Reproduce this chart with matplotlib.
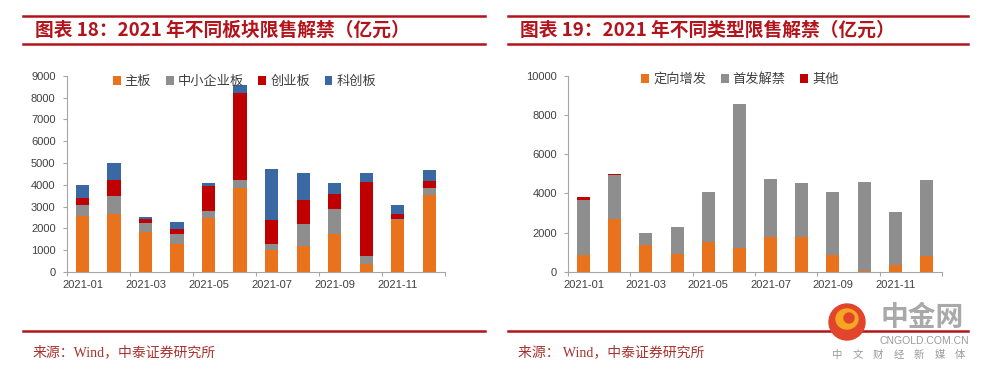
import numpy as np
import matplotlib
matplotlib.use("Agg")
import matplotlib.pyplot as plt
from matplotlib.patches import Ellipse
from matplotlib.lines import Line2D

plt.rcParams['font.family'] = ['Liberation Sans', 'Noto Sans CJK SC', 'DejaVu Sans']

# Data (亿元)
months = ['2021-01', '2021-02', '2021-03', '2021-04', '2021-05', '2021-06',
          '2021-07', '2021-08', '2021-09', '2021-10', '2021-11', '2021-12']
tick_labels = ['2021-01', '2021-03', '2021-05', '2021-07', '2021-09', '2021-11']

# Chart 18: by board
zhuban = [2550, 2680, 1840, 1270, 2480, 3830, 1000, 1180, 1760, 380, 2400, 3520]
zhongxiao = [510, 800, 410, 470, 320, 380, 270, 1010, 1150, 360, 50, 340]
chuangye = [350, 730, 200, 210, 1140, 3980, 1100, 1100, 660, 3390, 230, 320]
kechuang = [570, 770, 50, 330, 150, 390, 2350, 1230, 490, 430, 410, 490]

# Chart 19: by type
dingxiang = [850, 2720, 1390, 940, 1530, 1240, 1790, 1790, 850, 30, 340, 800]
shoufa = [2840, 2210, 600, 1360, 2550, 7310, 2940, 2750, 3200, 4540, 2720, 3880]
qita = [130, 50, 0, 0, 0, 0, 30, 0, 0, 0, 0, 0]

ORANGE = '#E8731C'
GRAY = '#8E8E8E'
RED = '#C00000'
BLUE = '#3A68A2'
DARKRED = '#B3141B'
AXIS = '#A6A6A6'
TXT = '#404040'

W, H = 984, 373
fig = plt.figure(figsize=(W / 100, H / 100), dpi=100)


def fx(px):
    return px / W


def fy(py):
    return (H - py) / H


def style_axes(ax, ymax, ystep):
    x = np.arange(len(months))
    ax.set_xlim(-0.5, len(months) - 0.5)
    ax.set_ylim(0, ymax)
    ax.set_yticks(np.arange(0, ymax + 1, ystep))
    ax.set_xticks(x[::2])
    ax.set_xticklabels(tick_labels)
    ax.set_xticks(np.arange(-0.5, len(months), 2), minor=True)
    ax.tick_params(axis='x', which='major', length=0, pad=6, labelsize=8, labelcolor=TXT)
    ax.tick_params(axis='x', which='minor', length=3, color=AXIS, width=0.8)
    ax.tick_params(axis='y', length=3, color=AXIS, width=0.8, pad=5, labelsize=8, labelcolor=TXT)
    for s in ['top', 'right']:
        ax.spines[s].set_visible(False)
    for s in ['left', 'bottom']:
        ax.spines[s].set_color(AXIS)
        ax.spines[s].set_linewidth(0.8)


# Left chart
ax1 = fig.add_axes([fx(66.7), fy(272), fx(445 - 66.7), (272 - 75.7) / H])
x = np.arange(len(months))
bw = 0.42
b = np.zeros(len(months))
for vals, col, lab in [(zhuban, ORANGE, '主板'), (zhongxiao, GRAY, '中小企业板'),
                       (chuangye, RED, '创业板'), (kechuang, BLUE, '科创板')]:
    ax1.bar(x, vals, bw, bottom=b, color=col, label=lab)
    b = b + np.array(vals)
style_axes(ax1, 9000, 1000)
ax1.legend(loc='center', bbox_to_anchor=(0.47, 0.97), ncol=4, frameon=False,
           handlelength=0.6, handleheight=0.6, handletextpad=0.3, columnspacing=1.1,
           prop={'family': ['Noto Sans CJK SC'], 'size': 9.5}, labelcolor=TXT)

# Right chart
ax2 = fig.add_axes([fx(568), fy(272), fx(942 - 568), (272 - 75.7) / H])
b = np.zeros(len(months))
for vals, col, lab in [(dingxiang, ORANGE, '定向增发'), (shoufa, GRAY, '首发解禁'), (qita, RED, '其他')]:
    ax2.bar(x, vals, bw, bottom=b, color=col, label=lab)
    b = b + np.array(vals)
style_axes(ax2, 10000, 2000)
ax2.legend(loc='center', bbox_to_anchor=(0.46, 0.98), ncol=3, frameon=False,
           handlelength=0.6, handleheight=0.6, handletextpad=0.3, columnspacing=1.1,
           prop={'family': ['Noto Sans CJK SC'], 'size': 9.5}, labelcolor=TXT)

# Title bars and source lines
for x0, x1, title, src in [(23, 485, '图表 18：2021 年不同板块限售解禁（亿元）', '来源：Wind，中泰证券研究所'),
                           (508, 968, '图表 19：2021 年不同类型限售解禁（亿元）', '来源： Wind，中泰证券研究所')]:
    for yy in (16, 44, 331):
        fig.add_artist(Line2D([fx(x0), fx(x1)], [fy(yy), fy(yy)], color=DARKRED, lw=1.8, zorder=1))
    fig.text(fx(x0 + 12), fy(30), title, color=DARKRED, fontsize=13.5, fontweight='bold',
             family=['Noto Sans CJK SC'], va='center', ha='left')
    fig.text(fx(x0 + 10), fy(352), src, color='#A8322E', fontsize=10,
             family=['Liberation Serif', 'Noto Sans CJK SC'], va='center', ha='left')

# Watermark logo
fig.add_artist(Ellipse((fx(847), fy(322)), 36 / W, 36 / H, transform=fig.transFigure,
                       color='#E2452B', zorder=5))
fig.add_artist(Ellipse((fx(847), fy(319)), 22 / W, 20 / H, transform=fig.transFigure,
                       color='#F6A623', zorder=6))
fig.add_artist(Ellipse((fx(849), fy(318)), 10 / W, 10 / H, transform=fig.transFigure,
                       color='#E2452B', zorder=7))
fig.text(fx(922), fy(318), '中金网', color='#A9A9A9', fontsize=20, fontweight='bold',
         family=['Noto Sans CJK SC'], ha='center', va='center', zorder=8)
fig.text(fx(924), fy(341), 'CNGOLD.COM.CN', color='#9A9A9A', fontsize=7.5,
         ha='center', va='center', zorder=8)
for i, ch in enumerate('中文财经新媒体'):
    fig.text(fx(837 + i * 20.5), fy(355), ch, color='#9A9A9A', fontsize=7.5,
             family=['Noto Sans CJK SC'], ha='center', va='center', zorder=8)

fig.savefig('out.png', dpi=100)
